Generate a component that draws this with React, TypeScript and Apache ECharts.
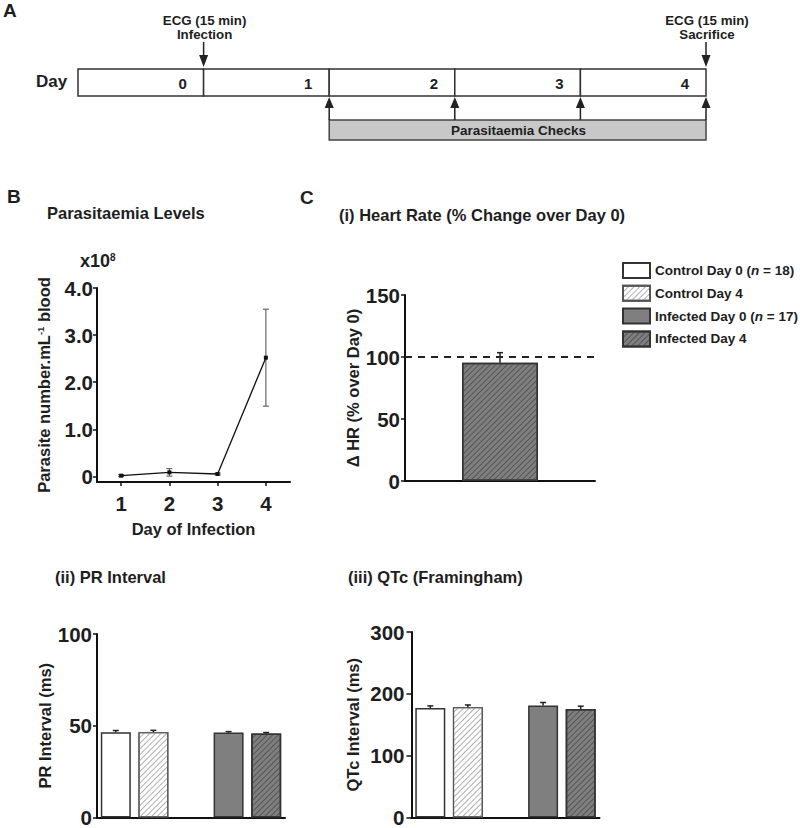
import React, { useEffect, useRef } from 'react';
import * as echarts from 'echarts';

// ---------- Data ----------
const timelineDays = [0, 1, 2, 3, 4];
const ecgTimes = [1, 5];
const ecgEvents = ['Infection', 'Sacrifice'];
const checkTimes = [2, 3, 4, 5];
const checkSpan = [2, 5];

const infectionDays = [1, 2, 3, 4];
const parasitaemia = [0.015, 0.085, 0.05, 2.52];
const parasitaemiaSem = [0.02, 0.08, 0.02, 1.03];
const parasiteTicks = [0, 1, 2, 3, 4];

const groups = ['Control Day 0', 'Control Day 4', 'Infected Day 0', 'Infected Day 4'];
const groupN: Record<string, number> = { 'Control Day 0': 18, 'Infected Day 0': 17 };
const groupSlots = [0, 1, 3, 4];
const slotLabels = ['Control Day 0', 'Control Day 4', '', 'Infected Day 0', 'Infected Day 4'];

const hrChange = 95.4;
const hrSem = 8.1;
const hrBaseline = 100;

const prMeans = [46.5, 46.5, 46.3, 45.8];
const prSem = [0.9, 1.0, 0.5, 0.5];

const qtcMeans = [177, 178.5, 181, 175.5];
const qtcSem = [3.5, 3.5, 5, 4.5];

// ---------- Styles ----------
const FONT = '"Liberation Sans", Arial, Helvetica, sans-serif';
const INK = '#1e1e1e';

const hatch = (color: string) => ({
  symbol: 'rect',
  symbolSize: 1,
  dashArrayX: [1, 0],
  dashArrayY: [1, 2.6],
  rotation: -Math.PI / 4,
  color,
});

const groupStyles: any[] = [
  { color: '#ffffff', borderColor: '#333', borderWidth: 1.5 },
  { color: '#ffffff', borderColor: '#555', borderWidth: 1.2, decal: hatch('#b0b0b0') },
  { color: '#7f7f7f', borderColor: '#333', borderWidth: 1.5 },
  { color: '#7f7f7f', borderColor: '#333', borderWidth: 1.5, decal: hatch('#555555') },
];

const axisLine = { show: true, onZero: false, lineStyle: { color: '#111', width: 2 } };
const tickLabel = (margin: number) => ({
  fontFamily: FONT,
  fontWeight: 'bold' as const,
  fontSize: 20.5,
  color: INK,
  margin,
});
const nameStyle = { fontFamily: FONT, fontWeight: 'bold' as const, fontSize: 16.5, color: INK };
const titleStyle = { fontFamily: FONT, fontWeight: 'bold' as const, fontSize: 16.5, color: INK };
const letterStyle = { fontFamily: FONT, fontWeight: 'bold' as const, fontSize: 19, color: INK };

function errorBars(cap: number, color: string, lw: number, both: boolean) {
  return (params: any, api: any) => {
    const x = api.value(0);
    const y = api.value(1);
    const e = api.value(2);
    const top = api.coord([x, y + e]);
    const bot = api.coord([x, both ? y - e : y]);
    const children: any[] = [
      { type: 'line', shape: { x1: top[0], y1: bot[1], x2: top[0], y2: top[1] }, style: { stroke: color, lineWidth: lw } },
      { type: 'line', shape: { x1: top[0] - cap, y1: top[1], x2: top[0] + cap, y2: top[1] }, style: { stroke: color, lineWidth: lw } },
    ];
    if (both) {
      children.push({ type: 'line', shape: { x1: top[0] - cap, y1: bot[1], x2: top[0] + cap, y2: bot[1] }, style: { stroke: color, lineWidth: lw } });
    }
    return { type: 'group', children };
  };
}

function groupBars(values: number[], xi: number, yi: number) {
  return groups.map((g, gi) => ({
    type: 'bar',
    name: g,
    xAxisIndex: xi,
    yAxisIndex: yi,
    barWidth: 30,
    barGap: '-100%',
    itemStyle: groupStyles[gi],
    data: slotLabels.map((_, si) => (si === groupSlots[gi] ? values[gi] : '-')),
    z: 2,
  }));
}

export default function App() {
  const ref = useRef<HTMLDivElement>(null);

  useEffect(() => {
    if (!ref.current) return;
    const chart = echarts.init(ref.current, null, { renderer: 'svg' });

    const option: any = {
      animation: false,
      backgroundColor: '#ffffff',
      textStyle: { fontFamily: FONT },
      title: [
        { text: 'A', left: 3, top: 1, padding: 0, textStyle: letterStyle },
        { text: 'B', left: 7, top: 187, padding: 0, textStyle: letterStyle },
        { text: 'C', left: 300, top: 188, padding: 0, textStyle: letterStyle },
        { text: 'Parasitaemia Levels', left: 47, top: 204, padding: 0, textStyle: titleStyle },
        { text: '(i) Heart Rate (% Change over Day 0)', left: 339, top: 206, padding: 0, textStyle: titleStyle },
        { text: '(ii) PR Interval', left: 55, top: 568, padding: 0, textStyle: titleStyle },
        { text: '(iii) QTc (Framingham)', left: 348, top: 568, padding: 0, textStyle: titleStyle },
      ],
      legend: {
        data: groups,
        orient: 'vertical',
        left: 622,
        top: 262,
        padding: 0,
        itemWidth: 27,
        itemHeight: 15,
        itemGap: 5.8,
        icon: 'rect',
        selectedMode: false,
        formatter: (name: string) => (groupN[name] ? `${name} ({i|n} = ${groupN[name]})` : name),
        textStyle: {
          fontFamily: FONT,
          fontWeight: 'bold',
          fontSize: 13.5,
          color: INK,
          rich: { i: { fontFamily: FONT, fontWeight: 'bold', fontStyle: 'italic', fontSize: 13.5, color: INK } },
        },
      },
      graphic: [
        { type: 'text', left: 36, top: 73, style: { text: 'Day', font: `bold 17px ${FONT}`, fill: INK } },
        {
          type: 'text',
          left: 80,
          top: 252,
          style: {
            text: '{a|x10}{s|8}',
            rich: {
              a: { fontFamily: FONT, fontWeight: 'bold', fontSize: 18, fill: INK, color: INK },
              s: { fontFamily: FONT, fontWeight: 'bold', fontSize: 10, fill: INK, color: INK, verticalAlign: 'top' },
            },
          },
        },
      ],
      grid: [
        { left: 78, top: 69, width: 628, height: 27 },
        { left: 97, top: 288, width: 193, height: 194 },
        { left: 405, top: 295, width: 190, height: 186 },
        { left: 97, top: 634, width: 188, height: 186 },
        { left: 411.5, top: 632, width: 188, height: 186 },
      ],
      xAxis: [
        { gridIndex: 0, type: 'value', min: 0, max: 5, show: false },
        {
          gridIndex: 1,
          type: 'value',
          min: 0.5,
          max: 4.5,
          axisLine,
          axisTick: { show: true, length: 4, customValues: infectionDays, lineStyle: { color: '#111', width: 1.5 } },
          axisLabel: { ...tickLabel(11), customValues: infectionDays },
          splitLine: { show: false },
          name: 'Day of Infection',
          nameLocation: 'middle',
          nameGap: 38,
          nameTextStyle: nameStyle,
        },
        { gridIndex: 2, type: 'category', data: ['Infected Day 4'], axisLine, axisTick: { show: false }, axisLabel: { show: false } },
        { gridIndex: 3, type: 'category', data: slotLabels, axisLine, axisTick: { show: false }, axisLabel: { show: false } },
        { gridIndex: 4, type: 'category', data: slotLabels, axisLine, axisTick: { show: false }, axisLabel: { show: false } },
      ],
      yAxis: [
        { gridIndex: 0, type: 'value', min: 0, max: 1, show: false },
        {
          gridIndex: 1,
          type: 'value',
          min: -0.12,
          max: 4,
          axisLine,
          axisTick: { show: true, length: 4, customValues: parasiteTicks, lineStyle: { color: '#111', width: 1.5 } },
          axisLabel: {
            ...tickLabel(4),
            customValues: parasiteTicks,
            formatter: (v: number) => (v === 0 ? '0' : v.toFixed(1)),
          },
          splitLine: { show: false },
          name: '{a|Parasite number.mL}{s|-1}{a| blood}',
          nameLocation: 'middle',
          nameGap: 45,
          nameTextStyle: {
            ...nameStyle,
            rich: {
              a: { ...nameStyle },
              s: { fontFamily: FONT, fontWeight: 'bold', fontSize: 9.5, color: INK, verticalAlign: 'top' },
            },
          },
        },
        {
          gridIndex: 2,
          type: 'value',
          min: 0,
          max: 150,
          interval: 50,
          axisLine,
          axisTick: { show: true, length: 4, lineStyle: { color: '#111', width: 1.5 } },
          axisLabel: tickLabel(5),
          splitLine: { show: false },
          name: 'Δ HR (% over Day 0)',
          nameLocation: 'middle',
          nameGap: 43,
          nameTextStyle: nameStyle,
        },
        {
          gridIndex: 3,
          type: 'value',
          min: 0,
          max: 100,
          interval: 50,
          axisLine,
          axisTick: { show: true, length: 4, lineStyle: { color: '#111', width: 1.5 } },
          axisLabel: tickLabel(5),
          splitLine: { show: false },
          name: 'PR Interval (ms)',
          nameLocation: 'middle',
          nameGap: 32,
          nameTextStyle: nameStyle,
        },
        {
          gridIndex: 4,
          type: 'value',
          min: 0,
          max: 300,
          interval: 100,
          axisLine,
          axisTick: { show: true, length: 5, lineStyle: { color: '#111', width: 1.5 } },
          axisLabel: tickLabel(7),
          splitLine: { show: false },
          name: 'QTc Interval (ms)',
          nameLocation: 'middle',
          nameGap: 50,
          nameTextStyle: nameStyle,
        },
      ],
      series: [
        // Timeline day boxes
        {
          type: 'custom',
          xAxisIndex: 0,
          yAxisIndex: 0,
          data: timelineDays.map((d) => [d]),
          renderItem: (params: any, api: any) => {
            const d = api.value(0);
            const a = api.coord([d, 0]);
            const b = api.coord([d + 1, 1]);
            return {
              type: 'group',
              children: [
                { type: 'rect', shape: { x: a[0], y: b[1], width: b[0] - a[0], height: a[1] - b[1] }, style: { fill: '#fff', stroke: '#333', lineWidth: 1.5 } },
                { type: 'text', style: { text: String(d), x: b[0] - 21, y: (a[1] + b[1]) / 2 + 1, align: 'center', verticalAlign: 'middle', font: `bold 15px ${FONT}`, fill: INK } },
              ],
            };
          },
        },
        // ECG arrows (down)
        {
          type: 'custom',
          xAxisIndex: 0,
          yAxisIndex: 0,
          data: ecgTimes.map((t) => [t]),
          renderItem: (params: any, api: any) => {
            const p = api.coord([api.value(0), 1]);
            const x = p[0];
            const y = p[1];
            return {
              type: 'group',
              children: [
                { type: 'line', shape: { x1: x, y1: y - 27, x2: x, y2: y - 12 }, style: { stroke: '#222', lineWidth: 1.5 } },
                { type: 'polygon', shape: { points: [[x - 4.5, y - 14], [x + 4.5, y - 14], [x, y - 2]] }, style: { fill: '#222' } },
                { type: 'text', style: { text: 'ECG (15 min)', x: x + 1, y: y - 49, align: 'center', verticalAlign: 'middle', font: `bold 13.3px ${FONT}`, fill: INK } },
                { type: 'text', style: { text: ecgEvents[params.dataIndex], x: x + 1, y: y - 35, align: 'center', verticalAlign: 'middle', font: `bold 13.3px ${FONT}`, fill: INK } },
              ],
            };
          },
        },
        // Parasitaemia check bar
        {
          type: 'custom',
          xAxisIndex: 0,
          yAxisIndex: 0,
          data: [checkSpan],
          renderItem: (params: any, api: any) => {
            const a = api.coord([api.value(0), 0]);
            const b = api.coord([api.value(1), 0]);
            const y = a[1];
            return {
              type: 'group',
              children: [
                { type: 'rect', shape: { x: a[0], y: y + 24, width: b[0] - a[0], height: 20 }, style: { fill: '#c8c8c8', stroke: '#444', lineWidth: 1.5 } },
                { type: 'text', style: { text: 'Parasitaemia Checks', x: (a[0] + b[0]) / 2 + 1, y: y + 34.5, align: 'center', verticalAlign: 'middle', font: `bold 13.5px ${FONT}`, fill: INK } },
              ],
            };
          },
        },
        // Parasitaemia check arrows (up)
        {
          type: 'custom',
          xAxisIndex: 0,
          yAxisIndex: 0,
          data: checkTimes.map((t) => [t]),
          z: 3,
          renderItem: (params: any, api: any) => {
            const p = api.coord([api.value(0), 0]);
            const x = p[0];
            const y = p[1];
            return {
              type: 'group',
              children: [
                { type: 'line', shape: { x1: x, y1: y + 24, x2: x, y2: y + 10 }, style: { stroke: '#222', lineWidth: 1.5 } },
                { type: 'polygon', shape: { points: [[x - 4.5, y + 12], [x + 4.5, y + 12], [x, y + 1]] }, style: { fill: '#222' } },
              ],
            };
          },
        },
        // B: parasitaemia line
        {
          type: 'line',
          name: 'Parasitaemia',
          xAxisIndex: 1,
          yAxisIndex: 1,
          data: infectionDays.map((d, i) => [d, parasitaemia[i]]),
          symbol: 'rect',
          symbolSize: 4,
          itemStyle: { color: '#111' },
          lineStyle: { color: '#111', width: 1.3 },
          z: 3,
        },
        {
          type: 'custom',
          xAxisIndex: 1,
          yAxisIndex: 1,
          data: infectionDays.map((d, i) => [d, parasitaemia[i], parasitaemiaSem[i]]),
          renderItem: errorBars(3, '#666', 1.2, true),
          z: 2,
        },
        // C(i): heart rate
        {
          type: 'bar',
          name: 'Infected Day 4',
          xAxisIndex: 2,
          yAxisIndex: 2,
          barWidth: 76,
          itemStyle: groupStyles[3],
          data: [hrChange],
          markLine: {
            silent: true,
            symbol: 'none',
            label: { show: false },
            lineStyle: { type: [7, 6], color: '#222', width: 2 },
            data: [{ yAxis: hrBaseline }],
          },
          z: 2,
        },
        {
          type: 'custom',
          xAxisIndex: 2,
          yAxisIndex: 2,
          data: [[0, hrChange, hrSem]],
          renderItem: errorBars(3, '#222', 1.5, false),
          z: 4,
        },
        // C(ii): PR interval
        ...groupBars(prMeans, 3, 3),
        {
          type: 'custom',
          xAxisIndex: 3,
          yAxisIndex: 3,
          data: groupSlots.map((s, i) => [s, prMeans[i], prSem[i]]),
          renderItem: errorBars(3, '#222', 1.5, false),
          z: 4,
        },
        // C(iii): QTc
        ...groupBars(qtcMeans, 4, 4),
        {
          type: 'custom',
          xAxisIndex: 4,
          yAxisIndex: 4,
          data: groupSlots.map((s, i) => [s, qtcMeans[i], qtcSem[i]]),
          renderItem: errorBars(3, '#222', 1.5, false),
          z: 4,
        },
      ],
    };

    chart.setOption(option);
    return () => chart.dispose();
  }, []);

  return <div ref={ref} style={{ position: 'absolute', left: 0, top: 0, width: 800, height: 828 }} />;
}
